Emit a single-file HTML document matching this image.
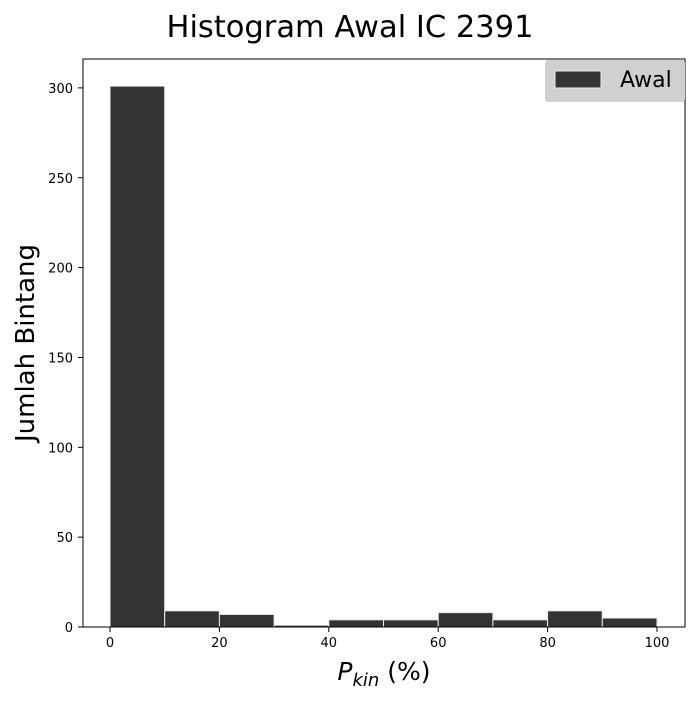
<!DOCTYPE html>
<html><head><meta charset="utf-8"><style>
body{margin:0;background:#fff;font-family:"Liberation Sans","DejaVu Sans",sans-serif}
</style></head><body>
<svg id="c" width="700" height="700" xmlns="http://www.w3.org/2000/svg">
<text x="350" y="37" text-anchor="middle" font-size="30.5" font-family="DejaVu Sans, sans-serif">Histogram Awal IC 2391</text>
<g id="bars"></g>
<rect x="83" y="59" width="602" height="568" fill="none" stroke="#000" stroke-width="1"/>
<g id="ticks" font-size="13" font-family="DejaVu Sans, sans-serif"></g>
<text x="384" y="680" text-anchor="middle" font-size="25" font-family="DejaVu Sans, sans-serif"><tspan font-style="italic">P</tspan><tspan font-style="italic" font-size="18" dy="6">kin</tspan><tspan dy="-6"> (%)</tspan></text>
<text transform="translate(34,343) rotate(-90)" text-anchor="middle" font-size="26" font-family="DejaVu Sans, sans-serif">Jumlah Bintang</text>
<g>
<rect x="545" y="60" width="140" height="42" rx="3" fill="#d0d0d0"/>
<rect x="555" y="71" width="46" height="17" fill="#333" stroke="#eee"/>
<text x="620" y="87" font-size="22" font-family="DejaVu Sans, sans-serif">Awal</text>
</g>
</svg>
<script>
const binEdges=[0,10,20,30,40,50,60,70,80,90,100];
const counts=[301,9,7,1,4,4,8,4,9,5];
const xTicks=[0,20,40,60,80,100];
const yTicks=[0,50,100,150,200,250,300];
const NS="http://www.w3.org/2000/svg";
const X=v=>110+v*5.47;
const Y=v=>627-v*1.797;
const bars=document.getElementById('bars');
counts.forEach((c,i)=>{
  const r=document.createElementNS(NS,'rect');
  r.setAttribute('x',X(binEdges[i]));
  r.setAttribute('y',Y(c));
  r.setAttribute('width',X(binEdges[i+1])-X(binEdges[i]));
  r.setAttribute('height',Y(0)-Y(c));
  r.setAttribute('fill','#333');
  r.setAttribute('stroke','#eee');
  r.setAttribute('stroke-width','1');
  
  
  bars.appendChild(r);
});
const tk=document.getElementById('ticks');
xTicks.forEach(v=>{
  const l=document.createElementNS(NS,'line');
  l.setAttribute('x1',X(v));l.setAttribute('x2',X(v));l.setAttribute('y1',627);l.setAttribute('y2',632);l.setAttribute('stroke','#000');
  
  
  tk.appendChild(l);
  const t=document.createElementNS(NS,'text');
  t.setAttribute('x',X(v));t.setAttribute('y',647);t.setAttribute('text-anchor','middle');t.textContent=v;
  
  
  tk.appendChild(t);
});
yTicks.forEach(v=>{
  const l=document.createElementNS(NS,'line');
  l.setAttribute('x1',78);l.setAttribute('x2',83);l.setAttribute('y1',Y(v));l.setAttribute('y2',Y(v));l.setAttribute('stroke','#000');
  
  
  tk.appendChild(l);
  const t=document.createElementNS(NS,'text');
  t.setAttribute('x',73);t.setAttribute('y',Y(v)+5);t.setAttribute('text-anchor','end');t.textContent=v;
  
  
  tk.appendChild(t);
});
</script>
</body></html>
